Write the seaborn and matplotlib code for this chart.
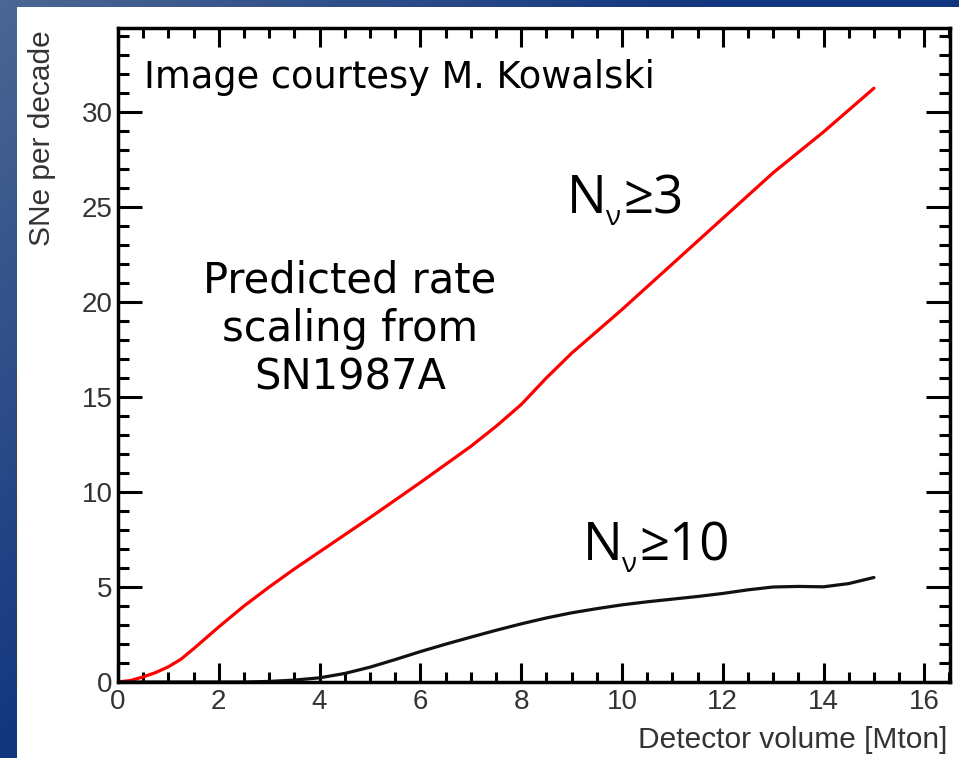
import numpy as np
import matplotlib
matplotlib.use("Agg")
import matplotlib.pyplot as plt
import seaborn as sns
from matplotlib.ticker import MultipleLocator
from matplotlib.patches import Rectangle

# Expected supernova count per decade vs. detector volume
volume_n3 = [0, 0.25, 0.5, 0.75, 1.0, 1.25, 1.5, 2.0, 2.5, 3.0, 3.5, 4.0, 5.0, 6.0,
             7.0, 7.5, 8.0, 8.5, 9.0, 10.0, 11.0, 12.0, 13.0, 14.0, 15.0]
sne_n3 = [0, 0.08, 0.27, 0.5, 0.8, 1.2, 1.75, 2.9, 4.0, 5.0, 5.95, 6.85, 8.65, 10.5,
          12.4, 13.45, 14.6, 16.0, 17.3, 19.6, 22.0, 24.4, 26.8, 28.95, 31.25]

volume_n10 = [0, 1, 2, 2.5, 3.0, 3.5, 4.0, 4.5, 5.0, 5.5, 6.0, 6.5, 7.0, 7.5, 8.0,
              8.5, 9.0, 9.5, 10.0, 10.5, 11.0, 11.5, 12.0, 12.5, 13.0, 13.5, 14.0,
              14.5, 15.0]
sne_n10 = [0, 0, 0, 0.0, 0.03, 0.1, 0.22, 0.45, 0.78, 1.18, 1.6, 1.99, 2.36, 2.72,
           3.06, 3.37, 3.64, 3.86, 4.06, 4.22, 4.36, 4.5, 4.66, 4.85, 5.0, 5.03,
           5.01, 5.18, 5.5]

x_ticks = [0, 2, 4, 6, 8, 10, 12, 14, 16]
y_ticks = [0, 5, 10, 15, 20, 25, 30]

sns.set_theme(style="ticks")
plt.rcParams["font.family"] = ["Liberation Sans", "DejaVu Sans"]

W, H = 959, 758
fig = plt.figure(figsize=(W / 100, H / 100), dpi=100)

# slide background: blue gradient frame around a white panel
bg = fig.add_axes([0, 0, 1, 1], zorder=-10)
bg.axis("off")
yy, xx = np.mgrid[0:H, 0:W]
t = np.clip(xx / 720 + yy / 760, 0, 1)[..., None]
light = np.array([0x4c, 0x67, 0x93]) / 255
dark = np.array([0x12, 0x35, 0x7f]) / 255
bg.imshow(light + (dark - light) * t, extent=[0, 1, 0, 1], origin="upper", aspect="auto")
bg.add_patch(Rectangle((17 / W, 0), 1 - 17 / W, 1 - 7 / H, transform=bg.transAxes,
                       facecolor="white", edgecolor="none"))
bg.add_patch(Rectangle((17 / W, 1 - 690 / H), 2 / W, 320 / H, transform=bg.transAxes,
                       facecolor="#fffbb8", edgecolor="none", alpha=0.6))
bg.set_xlim(0, 1)
bg.set_ylim(0, 1)

ax = fig.add_axes([118 / W, 1 - 682 / H, (950 - 118) / W, (682 - 28) / H])
ax.set_facecolor("white")

sns.lineplot(x=volume_n3, y=sne_n3, color="#ff0000", lw=2.3, ax=ax,
             estimator=None, sort=False)
sns.lineplot(x=volume_n10, y=sne_n10, color="#111111", lw=2.3, ax=ax,
             estimator=None, sort=False)

ax.set_xlim(0, 16.51)
ax.set_ylim(0, 34.42)
ax.set_xticks(x_ticks)
ax.set_yticks(y_ticks)
ax.xaxis.set_minor_locator(MultipleLocator(0.5))
ax.yaxis.set_minor_locator(MultipleLocator(1))

for sp in ax.spines.values():
    sp.set_visible(True)
    sp.set_linewidth(2.5)
    sp.set_color("black")

ax.tick_params(which="both", direction="in", top=True, right=True, width=2.2,
               color="black", labelcolor="#333333", labelsize=20)
ax.tick_params(axis="x", which="major", length=13.7, pad=5)
ax.tick_params(axis="x", which="minor", length=7.2)
ax.tick_params(axis="y", which="major", length=17, pad=4)
ax.tick_params(axis="y", which="minor", length=8)

ax.set_xlabel("Detector volume [Mton]", fontsize=21.5, color="#333333")
ax.xaxis.set_label_coords(1 - 3 / 832, -(726 - 682) / 654)
ax.xaxis.label.set_ha("right")
ax.xaxis.label.set_va("top")

ax.set_ylabel("SNe per decade", fontsize=21.5, color="#333333")
ax.yaxis.set_label_coords((42 - 118) / 832, 1 - 2 / 654)
ax.yaxis.label.set_ha("right")
ax.yaxis.label.set_va("center")

ax.text(0.52, 31.26, "Image courtesy M. Kowalski", family="DejaVu Sans",
        fontsize=26.5, color="black", va="baseline")
ax.text(4.6, 22.26, "Predicted rate\nscaling from\nSN1987A", family="DejaVu Sans",
        fontsize=30, color="black", ha="center", va="top", linespacing=1.2,
        multialignment="center")


def multiplicity_label(x, y, rhs):
    kw = dict(family=["Open Sans", "DejaVu Sans"], color="black",
              va="baseline", ha="left")
    ax.text(x, y, "N", fontsize=38, **kw)
    ax.annotate("ν", xy=(x, y), xytext=(38, -12), textcoords="offset pixels",
                fontsize=20, **kw)
    ax.annotate("≥" + rhs, xy=(x, y), xytext=(56, 0), textcoords="offset pixels",
                fontsize=38, **kw)


multiplicity_label(8.91, 24.68, "3")
multiplicity_label(9.23, 6.42, "10")

fig.savefig("out.png", dpi=100)
